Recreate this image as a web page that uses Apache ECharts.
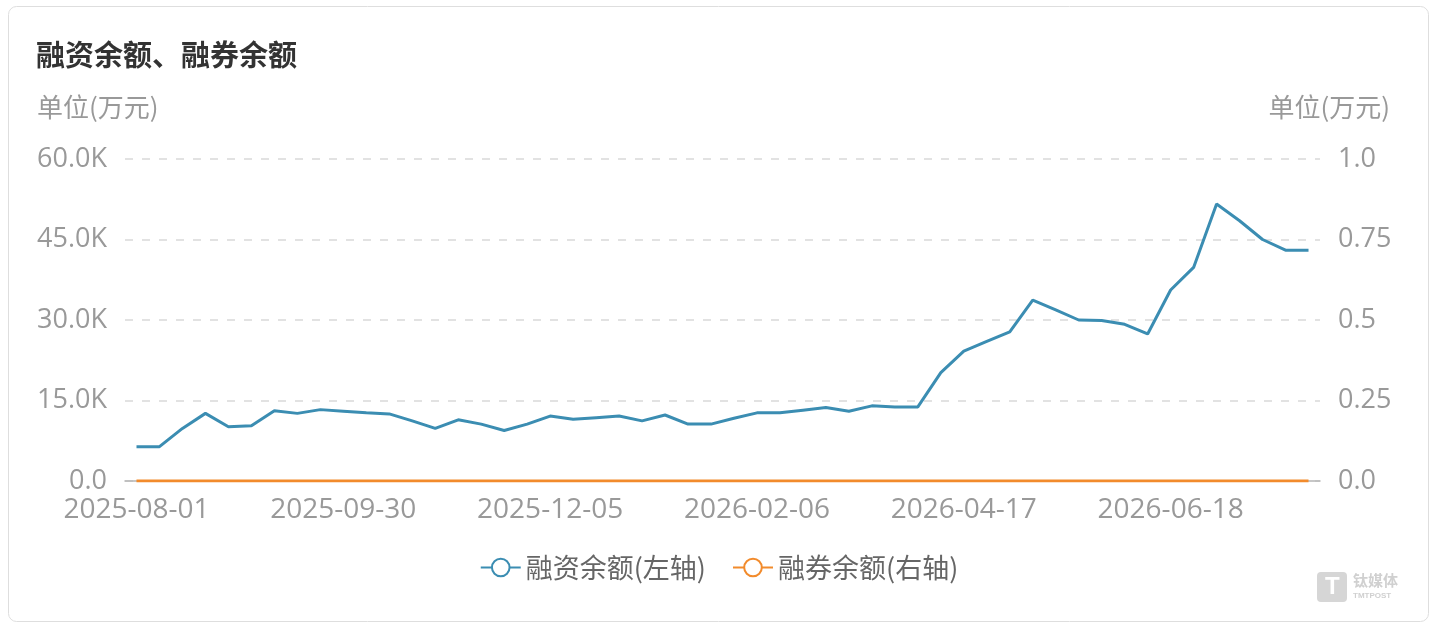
<!DOCTYPE html>
<html><head><meta charset="utf-8">
<script src="https://cdn.jsdelivr.net/npm/echarts@6/dist/echarts.min.js"></script>
<style>html,body{margin:0;padding:0;background:#fff}#c{width:1438px;height:629px}</style>
</head><body><div id="c"></div>
<script>
const categories = [
'2025-08-01','2025-08-08','2025-08-15','2025-08-22','2025-08-29','2025-09-05','2025-09-12','2025-09-19','2025-09-26','2025-09-30',
'2025-10-10','2025-10-17','2025-10-24','2025-10-31','2025-11-07','2025-11-14','2025-11-21','2025-11-28','2025-12-05','2025-12-12',
'2025-12-19','2025-12-26','2025-12-31','2026-01-09','2026-01-16','2026-01-23','2026-01-30','2026-02-06','2026-02-13','2026-02-27',
'2026-03-06','2026-03-13','2026-03-20','2026-03-27','2026-04-03','2026-04-10','2026-04-17','2026-04-24','2026-04-30','2026-05-08',
'2026-05-15','2026-05-22','2026-05-29','2026-06-05','2026-06-12','2026-06-18','2026-06-26','2026-07-03','2026-07-10','2026-07-17',
'2026-07-24','2026-07-31'];
const marginBalance = [
6400,6400,9800,12600,10100,10300,13100,12600,13300,13000,
12700,12500,11200,9800,11400,10600,9400,10600,12100,11500,
11800,12100,11200,12300,10600,10600,11700,12700,12700,13200,
13700,13000,14000,13800,13800,20200,24200,26000,27800,33700,
31900,30000,29900,29200,27400,35600,39800,51600,48500,45000,
43000,43000];
const shortBalance = categories.map(() => 0);
const seriesNames = ['融资余额(左轴)','融券余额(右轴)'];
const titleText = '融资余额、融券余额';
const unitText = '单位(万元)';

const FONT = "'Open Sans','Noto Sans CJK SC',sans-serif";
const chart = echarts.init(document.getElementById('c'));
chart.setOption({
  animation:false,
  textStyle:{fontFamily:FONT},
  graphic:[
    {type:'rect',shape:{x:8.5,y:6.5,width:1420,height:615,r:8},style:{fill:'#fff',stroke:'#dedede',lineWidth:1},z:-10},
    {type:'text',left:36,top:40,style:{text:titleText,font:"bold 29px 'Noto Sans CJK SC',sans-serif",fill:'#333'}},
    {type:'text',left:37,top:94,style:{text:unitText,font:"26px 'Noto Sans CJK SC',sans-serif",fill:'#999'}},
    {type:'text',right:48,top:94,style:{text:unitText,font:"26px 'Noto Sans CJK SC',sans-serif",fill:'#999'}},
    {type:'group',right:40,bottom:27,children:[
      {type:'rect',shape:{x:0,y:0,width:30,height:30,r:4},style:{fill:'#d6d6d6'}},
      {type:'text',x:8,y:3,style:{text:'T',font:"bold 24px sans-serif",fill:'#fff'}},
      {type:'text',x:36,y:1,style:{text:'钛媒体',font:"bold 15px 'Noto Sans CJK SC',sans-serif",fill:'#d0d0d0'}},
      {type:'text',x:36,y:20,style:{text:'TMTPOST',font:"bold 8px sans-serif",fill:'#d0d0d0'}}
    ]}
  ],
  grid:{left:125,right:118,top:159,bottom:148,containLabel:false},
  legend:{
    bottom:43,left:'center',itemWidth:40,itemHeight:22,itemGap:26,
    textStyle:{fontSize:27,color:'#666',fontFamily:"'Noto Sans CJK SC',sans-serif"},
    data:seriesNames
  },
  xAxis:{
    type:'category',data:categories,boundaryGap:true,
    axisLine:{lineStyle:{color:'#b5b5b5',width:1.5}},
    axisTick:{alignWithLabel:true,interval:8,length:6,lineStyle:{color:'#b5b5b5'}},
    axisLabel:{interval:8,fontSize:28,color:'#999',margin:15}
  },
  yAxis:[
    {type:'value',min:0,max:60000,interval:15000,
     axisLine:{show:false},axisTick:{show:false},
     axisLabel:{fontSize:27,color:'#999',margin:18,formatter:v=>v===0?'0.0':(v/1000).toFixed(1)+'K'},
     splitLine:{lineStyle:{color:'#e2e2e2',type:[8,9],width:2}}},
    {type:'value',min:0,max:1,interval:0.25,
     axisLine:{show:false},axisTick:{show:false},
     axisLabel:{fontSize:27,color:'#999',margin:18,formatter:v=>v===0?'0.0':(v===1?'1.0':String(v))},
     splitLine:{show:false}}
  ],
  series:[
    {name:seriesNames[0],type:'line',yAxisIndex:0,data:marginBalance,showSymbol:false,symbol:'emptyCircle',symbolSize:16,
     lineStyle:{width:3,color:'#3b8db2'},itemStyle:{color:'#3b8db2',borderWidth:3}},
    {name:seriesNames[1],type:'line',yAxisIndex:1,data:shortBalance,showSymbol:false,symbol:'emptyCircle',symbolSize:16,
     lineStyle:{width:3,color:'#f28b2c'},itemStyle:{color:'#f28b2c',borderWidth:3}}
  ]
});
</script></body></html>
